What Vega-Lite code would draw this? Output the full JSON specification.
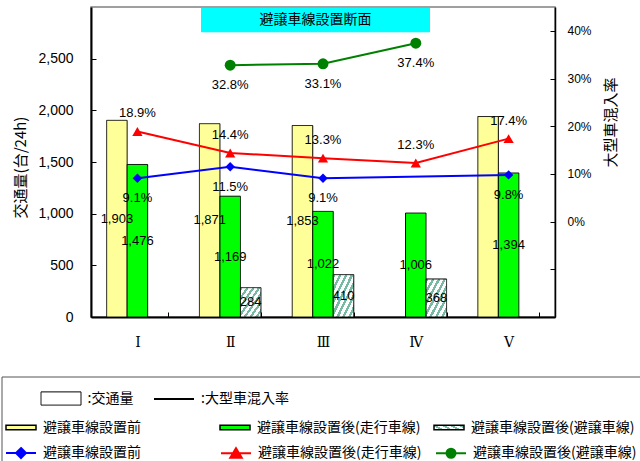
{
  "$schema": "https://vega.github.io/schema/vega-lite/v6.json",
  "autosize": {"type": "none"},
  "padding": {"left": 91, "top": 7, "right": 85, "bottom": 144},
  "width": 464,
  "height": 310,
  "background": "white",
  "config": {
    "font": "Liberation Sans",
    "view": {"stroke": null},
    "axis": {"grid": false, "domainColor": "black", "tickColor": "black", "labelColor": "black", "titleColor": "black", "titleFontWeight": "normal"},
    "legend": {"padding": 0, "labelFont": "Noto Sans CJK JP", "labelFontSize": 14, "labelColor": "black", "labelLimit": 400}
  },
  "view": {"stroke": "#808080", "strokeWidth": 1.5},
  "datasets": {
    "traffic": [
      {"section": "Ⅰ", "measure": "交通量", "series": "避譲車線設置前", "value": 1903},
      {"section": "Ⅰ", "measure": "交通量", "series": "避譲車線設置後(走行車線)", "value": 1476},
      {"section": "Ⅱ", "measure": "交通量", "series": "避譲車線設置前", "value": 1871},
      {"section": "Ⅱ", "measure": "交通量", "series": "避譲車線設置後(走行車線)", "value": 1169},
      {"section": "Ⅱ", "measure": "交通量", "series": "避譲車線設置後(避譲車線)", "value": 284},
      {"section": "Ⅲ", "measure": "交通量", "series": "避譲車線設置前", "value": 1853},
      {"section": "Ⅲ", "measure": "交通量", "series": "避譲車線設置後(走行車線)", "value": 1022},
      {"section": "Ⅲ", "measure": "交通量", "series": "避譲車線設置後(避譲車線)", "value": 410},
      {"section": "Ⅳ", "measure": "交通量", "series": "避譲車線設置後(走行車線)", "value": 1006},
      {"section": "Ⅳ", "measure": "交通量", "series": "避譲車線設置後(避譲車線)", "value": 368},
      {"section": "Ⅴ", "measure": "交通量", "series": "避譲車線設置前", "value": 1940},
      {"section": "Ⅴ", "measure": "交通量", "series": "避譲車線設置後(走行車線)", "value": 1394},
      {"section": "Ⅰ", "measure": "大型車混入率", "series": "避譲車線設置前", "value": 0.091},
      {"section": "Ⅱ", "measure": "大型車混入率", "series": "避譲車線設置前", "value": 0.115},
      {"section": "Ⅲ", "measure": "大型車混入率", "series": "避譲車線設置前", "value": 0.091},
      {"section": "Ⅴ", "measure": "大型車混入率", "series": "避譲車線設置前", "value": 0.098},
      {"section": "Ⅰ", "measure": "大型車混入率", "series": "避譲車線設置後(走行車線)", "value": 0.189},
      {"section": "Ⅱ", "measure": "大型車混入率", "series": "避譲車線設置後(走行車線)", "value": 0.144},
      {"section": "Ⅲ", "measure": "大型車混入率", "series": "避譲車線設置後(走行車線)", "value": 0.133},
      {"section": "Ⅳ", "measure": "大型車混入率", "series": "避譲車線設置後(走行車線)", "value": 0.123},
      {"section": "Ⅴ", "measure": "大型車混入率", "series": "避譲車線設置後(走行車線)", "value": 0.174},
      {"section": "Ⅱ", "measure": "大型車混入率", "series": "避譲車線設置後(避譲車線)", "value": 0.328},
      {"section": "Ⅲ", "measure": "大型車混入率", "series": "避譲車線設置後(避譲車線)", "value": 0.331},
      {"section": "Ⅳ", "measure": "大型車混入率", "series": "避譲車線設置後(避譲車線)", "value": 0.374}
    ],
    "sections": [
      {"span": "Ⅲ", "caption": "避譲車線設置断面"}
    ]
  },
  "data": {"name": "traffic"},
  "encoding": {
    "x": {
      "field": "section", "type": "nominal",
      "scale": {"paddingInner": 0.337, "paddingOuter": 0.1685},
      "axis": {"title": null, "tickBand": "extent", "tickSize": -5, "labelFont": "DejaVu Serif", "labelFontSize": 14, "labelPadding": 23, "labelAngle": 0, "domainWidth": 2}
    }
  },
  "layer": [
    {
      "layer": [
        {
          "transform": [{"filter": "datum.measure === '交通量'"}],
          "mark": {"type": "bar", "stroke": "black", "strokeWidth": 1},
          "encoding": {
            "xOffset": {"field": "series", "type": "nominal", "scale": {"paddingInner": 0}},
            "y": {
              "field": "value", "type": "quantitative", "stack": null,
              "scale": {"domain": [0, 3000], "nice": false},
              "axis": {"orient": "left", "values": [0, 500, 1000, 1500, 2000, 2500], "format": ",d", "labelFontSize": 14, "labelPadding": 23, "tickSize": -5, "domainWidth": 2, "title": "交通量(台/24h)", "titleFont": "Noto Sans CJK JP", "titleFontSize": 15, "titleX": -71, "titleY": 160, "titleAngle": 270, "titleBaseline": "middle", "titleAlign": "center"}
            },
            "fill": {
              "field": "series", "type": "nominal",
              "scale": {"range": ["#ffff99", "#00ff00", {"expr": "{gradient: 'linear', x1: 0, y1: 0, x2: 1, y2: 1, stops: [{offset: 0, color: '#78b9a4'}, {offset: 0.064, color: '#78b9a4'}, {offset: 0.064, color: '#ffffff'}, {offset: 0.143, color: '#ffffff'}, {offset: 0.143, color: '#78b9a4'}, {offset: 0.207, color: '#78b9a4'}, {offset: 0.207, color: '#ffffff'}, {offset: 0.286, color: '#ffffff'}, {offset: 0.286, color: '#78b9a4'}, {offset: 0.35, color: '#78b9a4'}, {offset: 0.35, color: '#ffffff'}, {offset: 0.429, color: '#ffffff'}, {offset: 0.429, color: '#78b9a4'}, {offset: 0.493, color: '#78b9a4'}, {offset: 0.493, color: '#ffffff'}, {offset: 0.571, color: '#ffffff'}, {offset: 0.571, color: '#78b9a4'}, {offset: 0.636, color: '#78b9a4'}, {offset: 0.636, color: '#ffffff'}, {offset: 0.714, color: '#ffffff'}, {offset: 0.714, color: '#78b9a4'}, {offset: 0.779, color: '#78b9a4'}, {offset: 0.779, color: '#ffffff'}, {offset: 0.857, color: '#ffffff'}, {offset: 0.857, color: '#78b9a4'}, {offset: 0.921, color: '#78b9a4'}, {offset: 0.921, color: '#ffffff'}, {offset: 1, color: '#ffffff'}]}"}]},
              "legend": {
                "orient": "none", "legendX": -86, "legendY": 404.5, "direction": "horizontal", "columns": 3, "gridAlign": "all", "columnPadding": 10, "title": null,
                "symbolType": "M-1,-0.15H1V0.15H-1Z", "symbolSize": 900, "labelOffset": 6,
                "encode": {"symbols": {"update": {"stroke": {"value": "black"}, "strokeWidth": {"value": 1}, "opacity": {"value": 1}}}}
              }
            },
            "strokeDash": {
              "field": "measure", "type": "nominal",
              "scale": {"range": [[1, 0]]},
              "legend": {
                "orient": "none", "legendX": -50.5, "legendY": 371, "title": null,
                "symbolType": "M-1,-0.33H1V0.33H-1Z", "symbolSize": 1600,
                "symbolFillColor": "white", "symbolStrokeColor": "black", "symbolStrokeWidth": 1,
                "labelOffset": 6, "labelExpr": "':' + datum.label",
                "encode": {"symbols": {"update": {"fill": {"value": "white"}, "stroke": {"value": "black"}, "strokeWidth": {"value": 1}, "opacity": {"value": 1}}}}
              }
            }
          }
        },
        {
          "data": {"name": "sections"},
          "mark": {"type": "bar", "width": 229, "xOffset": -7.5, "fill": "#00ffff", "stroke": null},
          "encoding": {
            "x": {"field": "span", "type": "nominal"},
            "y": {"datum": 2990, "type": "quantitative"},
            "y2": {"datum": 2755}
          }
        },
        {
          "data": {"name": "sections"},
          "mark": {"type": "text", "xOffset": -7.5, "font": "Noto Sans CJK JP", "fontSize": 14, "color": "black", "baseline": "middle"},
          "encoding": {
            "x": {"field": "span", "type": "nominal"},
            "y": {"datum": 2872, "type": "quantitative"},
            "text": {"field": "caption"}
          }
        }
      ]
    },
    {
      "transform": [
        {"filter": "datum.measure === '交通量'"},
        {"filter": "!(datum.section === 'Ⅴ' && datum.series === '避譲車線設置前')"}
      ],
      "mark": {"type": "text", "font": "Liberation Sans", "fontSize": 13, "color": "black", "baseline": "middle"},
      "encoding": {
        "xOffset": {"field": "series", "type": "nominal"},
        "y": {"field": "value", "type": "quantitative", "scale": {"domain": [0, 6000], "nice": false}, "axis": null},
        "text": {"field": "value", "type": "quantitative", "format": ","},
        "stroke": {
          "field": "value", "type": "quantitative",
          "scale": {"range": ["transparent", "transparent"]},
          "legend": {
            "orient": "none", "legendX": -89, "legendY": 370, "direction": "horizontal", "title": null,
            "gradientLength": 660, "gradientThickness": 100,
            "gradientStrokeColor": "#555555", "gradientStrokeWidth": 1,
            "labelExpr": "''"
          }
        }
      }
    },
    {
      "layer": [
        {
          "transform": [{"filter": "datum.measure === '大型車混入率'"}],
          "mark": {"type": "line", "strokeWidth": 2},
          "encoding": {
            "y": {
              "field": "value", "type": "quantitative",
              "scale": {"domain": [-0.2, 0.45], "nice": false, "zero": false},
              "axis": {"orient": "right", "values": [-0.2, -0.1, 0, 0.1, 0.2, 0.3, 0.4], "labelExpr": "datum.value < -0.001 ? '' : format(datum.value, '.0%')", "labelFontSize": 12, "labelPadding": 17, "tickSize": -5, "domainWidth": 1.5, "title": "大型車混入率", "titleFont": "Noto Sans CJK JP", "titleFontSize": 15, "titleX": 55, "titleY": 115, "titleAngle": 270, "titleBaseline": "middle", "titleAlign": "center"}
            },
            "color": {
              "field": "series", "type": "nominal",
              "scale": {"range": ["#0000ff", "#ff0000", "#008000"]},
              "legend": {
                "orient": "none", "legendX": -86, "legendY": 430, "direction": "horizontal", "columns": 3, "gridAlign": "all", "columnPadding": 10, "title": null,
                "symbolSize": 900, "labelOffset": 6,
                "encode": {"symbols": {"update": {
                  "shape": {"signal": "datum.value === '避譲車線設置前' ? 'M-1,0H1M0,-0.33L0.33,0L0,0.33L-0.33,0Z' : datum.value === '避譲車線設置後(走行車線)' ? 'M-1,0H1M0,-0.33L0.38,0.3L-0.38,0.3Z' : 'M-1,0H1M0.3,0A0.3,0.3,0,1,1,-0.3,0A0.3,0.3,0,1,1,0.3,0Z'"},
                  "fill": {"scale": "color", "field": "value"},
                  "stroke": {"scale": "color", "field": "value"},
                  "strokeWidth": {"value": 2},
                  "opacity": {"value": 1}
                }}}
              }
            },
            "strokeWidth": {
              "field": "measure", "type": "ordinal",
              "scale": {"range": [2, 2]},
              "legend": {
                "orient": "none", "legendX": 62, "legendY": 371, "title": null,
                "symbolType": "M-1,0H1", "symbolSize": 1600,
                "symbolStrokeColor": "black", "symbolStrokeWidth": 3,
                "labelOffset": 6, "labelExpr": "':' + datum.label",
                "encode": {"symbols": {"update": {"stroke": {"value": "black"}, "strokeWidth": {"value": 3}, "opacity": {"value": 1}}}}
              }
            }
          }
        },
        {
          "transform": [{"filter": "datum.measure === '大型車混入率'"}],
          "mark": {"type": "point", "filled": true, "opacity": 1},
          "encoding": {
            "y": {"field": "value", "type": "quantitative"},
            "color": {"field": "series", "type": "nominal"},
            "shape": {"field": "series", "type": "nominal", "scale": {"range": ["diamond", "triangle-up", "circle"]}, "legend": null},
            "size": {"field": "series", "type": "ordinal", "scale": {"range": [90, 120, 68]}, "legend": null}
          }
        },
        {
          "transform": [{"filter": "datum.measure === '大型車混入率' && datum.series === '避譲車線設置後(走行車線)'"}],
          "mark": {"type": "text", "font": "Liberation Sans", "fontSize": 13, "color": "black", "baseline": "middle", "dy": -18},
          "encoding": {
            "y": {"field": "value", "type": "quantitative"},
            "text": {"field": "value", "type": "quantitative", "format": ".1%"}
          }
        },
        {
          "transform": [{"filter": "datum.measure === '大型車混入率' && datum.series !== '避譲車線設置後(走行車線)'"}],
          "mark": {"type": "text", "font": "Liberation Sans", "fontSize": 13, "color": "black", "baseline": "middle", "dy": 20},
          "encoding": {
            "y": {"field": "value", "type": "quantitative"},
            "text": {"field": "value", "type": "quantitative", "format": ".1%"}
          }
        }
      ]
    }
  ],
  "resolve": {"scale": {"y": "independent"}}
}
